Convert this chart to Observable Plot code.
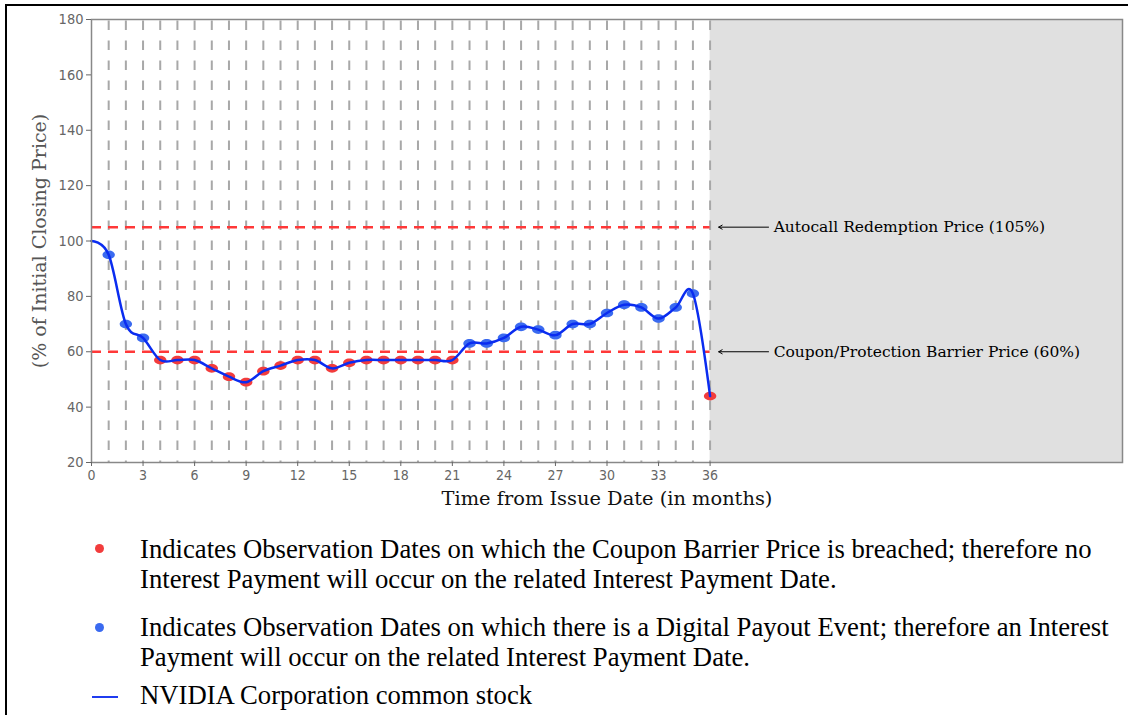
<!DOCTYPE html>
<html><head><meta charset="utf-8">
<script src="https://cdn.jsdelivr.net/npm/d3@7"></script>
<script src="https://cdn.jsdelivr.net/npm/@observablehq/plot@0.6"></script>
<style>
body{margin:0;background:#fff;}
#wrap{position:relative;width:1128px;height:715px;overflow:hidden;background:#fff;}
#border{position:absolute;left:5px;top:4px;width:1200px;height:800px;border-top:2.5px solid #000;border-left:2.5px solid #000;}
#chart{position:absolute;left:0;top:0;}
g[aria-label="y-axis label"] text{font-family:"DejaVu Serif",serif !important;font-size:19px !important;fill:#555 !important;}
g[aria-label="x-axis label"] text{font-family:"DejaVu Serif",serif !important;font-size:19.4px !important;fill:#111 !important;}
.item{position:absolute;left:140px;font-family:"Liberation Serif","Times New Roman",serif;font-size:26.7px;line-height:30px;color:#000;white-space:nowrap;}
.dotk{position:absolute;width:9px;height:9px;border-radius:50%;}
.linek{position:absolute;left:92px;top:696px;width:26px;height:2px;background:#1f3cf0;}
</style></head>
<body>
<div id="wrap">
<div id="border"></div>
<div id="chart"></div>
<div class="dotk" style="left:95px;top:544px;background:#f23c3c"></div>
<div class="item" id="l1" style="top:534px"></div>
<div class="dotk" style="left:95px;top:623px;background:#3a6af0"></div>
<div class="item" id="l2" style="top:612px"></div>
<div class="linek"></div>
<div class="item" id="l3" style="top:680px"></div>
</div>
<script>
// ---- data ----
const months = [0,1,2,3,4,5,6,7,8,9,10,11,12,13,14,15,16,17,18,19,20,21,22,23,24,25,26,27,28,29,30,31,32,33,34,35,36];
const values = [100,95,70,65,57,57,57,54,51,49,53,55,57,57,54,56,57,57,57,57,57,57,63,63,65,69,68,66,70,70,74,77,76,72,76,81,44];
const observationMonths = [1,2,3,4,5,6,7,8,9,10,11,12,13,14,15,16,17,18,19,20,21,22,23,24,25,26,27,28,29,30,31,32,33,34,35,36];
const barrierLevels = [105, 60];
const barrierLabels = ["Autocall Redemption Price (105%)", "Coupon/Protection Barrier Price (60%)"];
const couponBarrier = 60;
const xTicks = [0,3,6,9,12,15,18,21,24,27,30,33,36];
const yTicks = [20,40,60,80,100,120,140,160,180];
const yTitle = "(% of Initial Closing Price)";
const xTitle = "Time from Issue Date (in months)";
const legendTexts = [
  "Indicates Observation Dates on which the Coupon Barrier Price is breached; therefore no<br>Interest Payment will occur on the related Interest Payment Date.",
  "Indicates Observation Dates on which there is a Digital Payout Event; therefore an Interest<br>Payment will occur on the related Interest Payment Date.",
  "NVIDIA Corporation common stock"
];

const series = months.map((m, i) => ({month: m, value: values[i]}));
const obs = observationMonths.map(m => ({month: m, value: values[months.indexOf(m)]}));
const annots = barrierLevels.map((v, i) => ({level: v, label: barrierLabels[i]}));

const ellipse = {draw(ctx, size) {
  const r = Math.sqrt(size / Math.PI), rx = r, ry = r * 0.7, k = 0.5523;
  ctx.moveTo(rx, 0);
  ctx.bezierCurveTo(rx, ry*k, rx*k, ry, 0, ry);
  ctx.bezierCurveTo(-rx*k, ry, -rx, ry*k, -rx, 0);
  ctx.bezierCurveTo(-rx, -ry*k, -rx*k, -ry, 0, -ry);
  ctx.bezierCurveTo(rx*k, -ry, rx, -ry*k, rx, 0);
  ctx.closePath();
}};

const tickFont = "DejaVu Sans Condensed, DejaVu Sans, sans-serif";
const chart = Plot.plot({
  width: 1128, height: 520,
  marginLeft: 91, marginRight: 6, marginTop: 19, marginBottom: 58,
  x: {domain: [0, 60]},
  y: {domain: [20, 180]},
  marks: [
    Plot.rect([{a: 36, b: 60}], {x1: "a", x2: "b", y1: 20, y2: 180, fill: "#e0e0e0"}),
    Plot.ruleX(observationMonths, {stroke: "#a8a8a8", strokeWidth: 2, strokeDasharray: "9.5,10.5", strokeDashoffset: -1.5}),
    Plot.ruleY(barrierLevels, {x1: 0, x2: 36, stroke: "#ff3838", strokeWidth: 2.5, strokeDasharray: "10,7"}),
    Plot.dot(obs, {x: "month", y: "value", r: 6.2, symbol: ellipse, stroke: null,
      fill: d => d.value < couponBarrier ? "#f23c3c" : "#3a6af0"}),
    Plot.line(series, {x: "month", y: "value", curve: "cardinal", stroke: "#0a2cf0", strokeWidth: 2.5}),
    Plot.arrow(annots, {x1: 39.4, x2: 36.5, y1: "level", y2: "level", stroke: "#000", strokeWidth: 1, headLength: 6, bend: 0}),
    Plot.text(annots, {x: 39.7, y: "level", text: "label", textAnchor: "start", fill: "#000", fontSize: 15.5, fontFamily: "DejaVu Serif, serif"}),
    Plot.frame({stroke: "#888", strokeWidth: 1.5}),
    Plot.axisY({ticks: yTicks, tickSize: 5, tickPadding: 3, label: yTitle, labelAnchor: "center", labelArrow: "none", labelOffset: 59,
      stroke: "#666", fill: "#666", fontSize: 14.5, fontFamily: tickFont}),
    Plot.axisX({ticks: xTicks, tickSize: 4, tickPadding: 4, label: xTitle, labelAnchor: "center", labelArrow: "none", labelOffset: 42,
      stroke: "#666", fill: "#666", fontSize: 14, fontFamily: tickFont})
  ]
});
document.getElementById("chart").appendChild(chart);
document.getElementById("l1").innerHTML = legendTexts[0];
document.getElementById("l2").innerHTML = legendTexts[1];
document.getElementById("l3").innerHTML = legendTexts[2];
</script>
</body></html>
